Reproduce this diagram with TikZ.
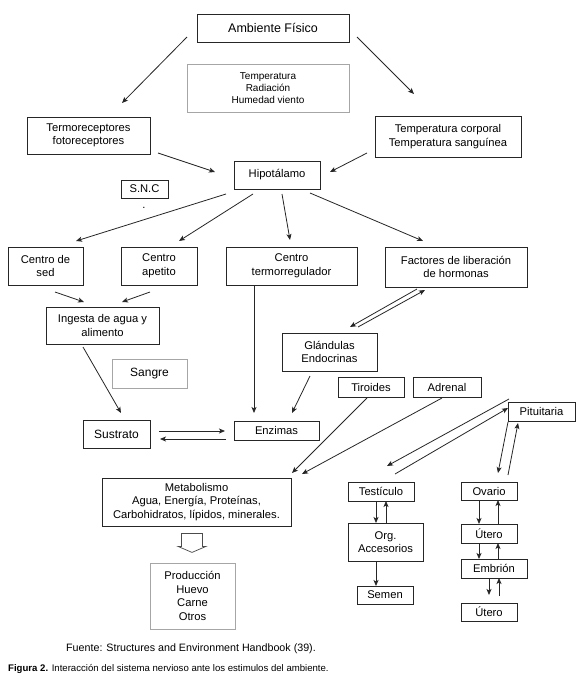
\documentclass[tikz,border=0pt]{standalone}
\usepackage{fontspec}
\setmainfont{Liberation Sans}
\usetikzlibrary{arrows.meta,calc}
\newcommand\fm{\fontsize{11.2}{13.6}\selectfont}
\newcommand\fbig{\fontsize{12.5}{15}\selectfont}
\newcommand\fmid{\fontsize{12}{14}\selectfont}
\newcommand\fsm{\fontsize{10}{12}\selectfont}
\newcommand\fcap{\fontsize{9.6}{11}\selectfont}
\newcommand\fsrc{\fontsize{10.7}{12}\selectfont}
\begin{document}
\begin{tikzpicture}[x=1pt,y=-1pt,
  box/.style={draw=black!85, line width=0.8pt, inner sep=0pt, align=center, font=\fm},
  gbox/.style={box, draw=black!35},
  sz/.style 2 args={minimum width=#1pt, minimum height=#2pt},
  arr/.style={-{Stealth[length=6pt,width=5pt,inset=1.5pt]}, line width=0.8pt, black!85}]
\useasboundingbox (0,0) rectangle (578,691);
\fill[white] (0,0) rectangle (578,691);

% nodes
\node[box,font=\fbig,sz={152}{28}] (amb) at (273,28) {Ambiente Físico};
\node[gbox,font=\fsm,sz={162}{48}] (clim) at (268,88) {Temperatura\\Radiación\\Humedad viento};
\node[box,sz={123}{37}] (termo) at (88.5,135.5) {Termoreceptores\\fotoreceptores};
\node[box,sz={146}{41}] (tcorp) at (448,136.5) {Temperatura corporal\\Temperatura sanguínea};
\node[box,sz={86}{28}] (hipo) at (277,175) {Hipotálamo};
\node[box,sz={47}{18}] (snc) at (144.5,189) {S.N.C};
\node[font=\fm,inner sep=0pt,anchor=base] (sncdot) at (144,208) {.};
\node[box,sz={75}{38}] (sed) at (45.5,266) {Centro de\\sed};
\node[box,sz={76}{38}] (apet) at (159,266) {Centro\\apetito};
\node[box,sz={131}{38}] (ctermo) at (291.5,266) {Centro\\termorregulador};
\node[box,sz={142}{40}] (fact) at (456,267) {Factores de liberación\\de hormonas};
\node[box,sz={113}{37}] (ing) at (102.5,325.5) {Ingesta de agua y\\alimento};
\node[box,sz={95}{38}] (gland) at (329.5,352) {Glándulas\\Endocrinas};
\node[gbox,font=\fmid,sz={75}{29}] (sangre) at (149.5,373.5) {Sangre};
\node[box,sz={66}{20}] (tiro) at (371,387) {Tiroides};
\node[box,sz={68}{20}] (adren) at (447,387) {Adrenal};
\node[box,sz={67}{19}] (pitu) at (541.5,411.5) {Pituitaria};
\node[box,font=\fmid,sz={67}{28}] (sust) at (116.5,434) {Sustrato};
\node[box,sz={85}{19}] (enz) at (276.5,430.5) {Enzimas};
\node[box,sz={189}{48}] (meta) at (196.5,502) {Metabolismo\\Agua, Energía, Proteínas,\\Carbohidratos, lípidos, minerales.};
\node[box,sz={66}{19}] (test) at (381,491.5) {Testículo};
\node[box,sz={56}{18}] (ova) at (489,491) {Ovario};
\node[box,sz={75}{38}] (org) at (385.5,542) {Org.\\Accesorios};
\node[box,sz={56}{19}] (ute1) at (489,533.5) {Útero};
\node[box,sz={66}{19}] (emb) at (494,568.5) {Embrión};
\node[box,sz={56}{18}] (semen) at (385,595) {Semen};
\node[box,sz={56}{18}] (ute2) at (489,612) {Útero};
\node[gbox,sz={85}{66}] (prod) at (192.5,596) {Producción\\Huevo\\Carne\\Otros};

\node[font=\fsrc,inner sep=0pt,anchor=base] (fuente) at (191,651) {Fuente: Structures and Environment Handbook (39).};
\node[font=\fcap,inner sep=0pt,anchor=base west] (figcap) at (8,671) {\textbf{Figura 2.} Interacción del sistema nervioso ante los estimulos del ambiente.};

% connectors
\draw[arr] ($(amb)+(-86,9)$) -- ($(termo)+(33.5,-32.5)$);
\draw[arr] ($(amb)+(84,9)$) -- ($(tcorp)+(-34,-42.5)$);
\draw[arr] ($(termo)+(69.5,17.5)$) -- ($(hipo)+(-62,-3)$);
\draw[arr] ($(tcorp)+(-81,16.5)$) -- ($(hipo)+(53,-3)$);
\draw[arr] ($(hipo)+(-51,19)$) -- ($(sed)+(30.5,-25)$);
\draw[arr] ($(hipo)+(-24,19)$) -- ($(apet)+(20,-25)$);
\draw[arr] ($(hipo)+(5,19)$) -- ($(ctermo)+(-1.5,-26)$);
\draw[arr] ($(hipo)+(33,18)$) -- ($(fact)+(-33,-26)$);
\draw[arr] ($(sed)+(9.5,26)$) -- ($(ing)+(-18.5,-23.5)$);
\draw[arr] ($(apet)+(-9,26)$) -- ($(ing)+(19.5,-23.5)$);
\draw[arr] ($(fact)+(-39,22)$) -- ($(gland)+(20.5,-25)$);
\draw[arr] ($(gland)+(28.5,-25)$) -- ($(fact)+(-31,23)$);
\draw[arr] ($(ctermo.south)+(-37.5,0)$) -- ($(enz)+(-22.5,-17.5)$);
\draw[arr] ($(gland)+(-19.5,24)$) -- ($(enz)+(15.5,-17.5)$);
\draw[arr] ($(ing)+(-19.5,21.5)$) -- ($(sust)+(4.5,-21)$);
\draw[arr] ($(sust)+(42.5,-3)$) -- ($(enz)+(-51.5,0.5)$);
\draw[arr] ($(enz)+(-50.5,8.5)$) -- ($(sust)+(43.5,5)$);
\draw[arr] ($(tiro)+(-4,11)$) -- ($(meta)+(95.5,-29)$);
\draw[arr] ($(adren)+(-5,11)$) -- ($(meta)+(105.5,-28)$);
\draw[arr] ($(pitu)+(-32.5,-12.5)$) -- ($(test)+(6,-25.5)$);
\draw[arr] ($(test)+(14,-17.5)$) -- ($(pitu)+(-33.5,-3.5)$);
\draw[arr] ($(pitu)+(-33.5,10.5)$) -- ($(ova)+(9,-18)$);
\draw[arr] ($(ova)+(19,-16)$) -- ($(pitu)+(-23.5,11.5)$);
\draw[arr] ($(test)+(-5,9.5)$) -- ($(org)+(-9.5,-19)$);
\draw[arr] ($(org)+(0.5,-19)$) -- ($(test)+(5,9.5)$);
\draw[arr] ($(org)+(-9.5,19)$) -- ($(semen)+(-9,-9)$);
\draw[arr] ($(ova)+(-10,9)$) -- ($(ute1)+(-10,-9.5)$);
\draw[arr] ($(ute1)+(9,-9.5)$) -- ($(ova)+(9,9)$);
\draw[arr] ($(ute1)+(-10,9.5)$) -- ($(emb)+(-15,-9.5)$);
\draw[arr] ($(emb)+(4,-9.5)$) -- ($(ute1)+(9,9.5)$);
\draw[arr] ($(emb)+(-5,9.5)$) -- ($(ute2)+(0,-17)$);
\draw[arr] ($(ute2)+(10,-16)$) -- ($(emb)+(5,9.5)$);

% hollow block arrow from Metabolismo to Produccion
\coordinate (ha) at ($(meta.south)+(-4.5,7)$);
\draw[black!70, line width=0.7pt, line join=miter]
  ($(ha)+(-10.5,0)$) -- ($(ha)+(10.5,0)$) -- ($(ha)+(10.5,13)$) -- ($(ha)+(14,13)$)
  -- ($(ha)+(0,19)$) -- ($(ha)+(-14,13)$) -- ($(ha)+(-10.5,13)$) -- cycle;
\end{tikzpicture}
\end{document}
